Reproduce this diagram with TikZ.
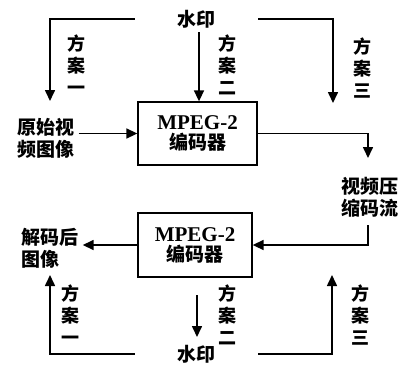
\documentclass[tikz,border=0pt]{standalone}
\usepackage{fontspec}
\setmainfont{Liberation Serif}
\newfontfamily\cjk{Noto Sans CJK SC}
\usetikzlibrary{arrows.meta}
\begin{document}
\begin{tikzpicture}[x=1pt,y=-1pt,
  conn/.style={line width=1.6pt,-{Triangle[length=11pt,width=10pt]}},
  codec/.style={draw,line width=1.3pt,inner sep=0pt,align=center,
    font=\bfseries\fontsize{21}{22}\selectfont},
  lbl/.style={inner sep=0pt,align=center,font=\cjk\bfseries\fontsize{19}{22}\selectfont},
  vlbl/.style={inner sep=0pt,align=center,font=\cjk\bfseries\fontsize{18}{22}\selectfont}]
\useasboundingbox (0,0) rectangle (403,365);
% top part
\node[lbl,minimum width=123pt,minimum height=16pt] (wmtop) at (196.5,19) {水印};
\node[codec,minimum width=119pt,minimum height=63pt] (box1) at (197.5,133.5)
  {MPEG-2\\[-2pt]{\cjk\fontsize{19}{22}\selectfont 编码器}};
\node[lbl,align=left,inner sep=4pt] (src) at (46,138) {原始视\\频图像};
\node[lbl,align=left] (stream) at (370,197) {视频压\\缩码流};
\coordinate (a1) at (50,101);
\coordinate (a3) at (333,103);
\coordinate (m1) at (199,32);
\coordinate (a4) at (368,158);
\draw[conn] (wmtop.west) -| (a1);
\draw[conn] (wmtop.east) -| (a3);
\draw[conn] (m1) -- (m1 |- box1.north);
\draw[conn] (src.east |- box1.west) -- (box1.west);
\draw[conn] (box1.east) -| (a4);
\node[vlbl] (t1) at (76,65) {方\\案\\一};
\node[vlbl] (t2) at (227,65) {方\\案\\二};
\node[vlbl] (t3) at (362,68) {方\\案\\三};
% bottom part
\node[codec,minimum width=114pt,minimum height=64pt] (box2) at (195,245)
  {MPEG-2\\[-2pt]{\cjk\fontsize{19}{22}\selectfont 编码器}};
\node[lbl,align=left,inner sep=4pt] (dec) at (50,248) {解码后\\图像};
\node[lbl,minimum width=123pt,minimum height=16pt] (wmbot) at (196.5,354) {水印};
\coordinate (s1) at (368,225);
\coordinate (b1) at (50,275);
\coordinate (b3) at (332,275);
\coordinate (m2) at (197,295);
\coordinate (m3) at (197,337);
\draw[conn] (s1) |- (box2.east);
\draw[conn] (box2.west) -- (box2.west -| dec.east);
\draw[conn] (wmbot.west) -| (b1);
\draw[conn] (wmbot.east) -| (b3);
\draw[conn] (m2) -- (m3);
\node[vlbl] (u1) at (70,315) {方\\案\\一};
\node[vlbl] (u2) at (227,315) {方\\案\\二};
\node[vlbl] (u3) at (360,315) {方\\案\\三};
\end{tikzpicture}
\end{document}
